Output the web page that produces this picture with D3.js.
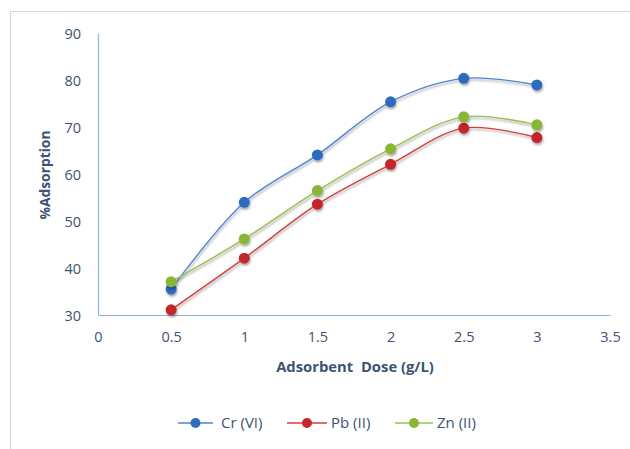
<!DOCTYPE html>
<html>
<head>
<meta charset="utf-8">
<script src="https://cdn.jsdelivr.net/npm/d3@7"></script>
<style>
  html, body { margin: 0; padding: 0; background: #fff; }
  svg { display: block; }
</style>
</head>
<body>
<svg id="chart" width="630" height="449"></svg>
<script>
// Adsorbent dose (g/L) and % adsorption per metal ion
const doses = [0.5, 1, 1.5, 2, 2.5, 3];
const crVI = [35.5, 54.0, 64.1, 75.4, 80.4, 79.0];
const pbII = [31.1, 42.1, 53.6, 62.1, 69.8, 67.8];
const znII = [37.1, 46.2, 56.5, 65.4, 72.2, 70.5];
const seriesNames = ["Cr (VI)", "Pb (II)", "Zn (II)"];
const xTicks = [0, 0.5, 1, 1.5, 2, 2.5, 3, 3.5];
const yTicks = [30, 40, 50, 60, 70, 80, 90];

const lineColors = ["#4f86cf", "#d0413f", "#98c04a"];
const markerColors = ["#2f6bbd", "#c3282a", "#8ab636"];
const seriesValues = [crVI, pbII, znII];

const svg = d3.select("#chart");
const textColor = "#3d5373";
const axisColor = "#8fb3e2";
const font = "'Open Sans', 'Liberation Sans', sans-serif";

// outer chart frame
svg.append("rect")
  .attr("x", 10.5).attr("y", 11.5)
  .attr("width", 640).attr("height", 460)
  .attr("fill", "none").attr("stroke", "#c9d9ef").attr("stroke-width", 1);

const x = d3.scaleLinear().domain([0, 3.5]).range([98, 610]);
const y = d3.scaleLinear().domain([30, 90]).range([315, 33.3]);

// soft drop shadow under lines and markers
const defs = svg.append("defs");
const f = defs.append("filter").attr("id", "shadow")
  .attr("x", "-20%").attr("y", "-20%").attr("width", "140%").attr("height", "140%");
f.append("feDropShadow").attr("dx", 0.8).attr("dy", 2).attr("stdDeviation", 1.3)
  .attr("flood-color", "#000").attr("flood-opacity", 0.35);

// axes (no tick marks, just lines and labels)
const xAxis = d3.axisBottom(x).tickValues(xTicks).tickSize(0).tickPadding(17)
  .tickFormat(d => String(d));
const yAxis = d3.axisLeft(y).tickValues(yTicks).tickSize(0).tickPadding(17)
  .tickFormat(d => String(d));

const gx = svg.append("g").attr("transform", `translate(0,${y(30)})`).call(xAxis);
const gy = svg.append("g").attr("transform", `translate(${x(0)},0)`).call(yAxis);
[gx, gy].forEach(g => {
  g.select(".domain").attr("stroke", axisColor).attr("stroke-width", 1.2);
  g.selectAll("text").attr("fill", textColor).attr("font-family", font).attr("font-size", 14.5);
});
gy.selectAll("text").attr("dy", "0.35em");

// axis titles
svg.append("text")
  .attr("x", 355).attr("y", 372)
  .attr("text-anchor", "middle")
  .attr("font-family", font).attr("font-size", 14.8).attr("font-weight", "bold")
  .attr("fill", textColor)
  .attr("xml:space", "preserve")
  .style("white-space", "pre")
  .text("Adsorbent  Dose (g/L)");

svg.append("text")
  .attr("transform", "translate(50,175) rotate(-90)")
  .attr("text-anchor", "middle")
  .attr("font-family", font).attr("font-size", 13.8).attr("font-weight", "bold")
  .attr("fill", textColor)
  .text("%Adsorption");

// smoothed series lines with markers
const line = d3.line()
  .x((d, i) => x(doses[i]))
  .y(d => y(d))
  .curve(d3.curveCatmullRom.alpha(0.5));

seriesValues.forEach((vals, s) => {
  const g = svg.append("g").attr("filter", "url(#shadow)");
  g.append("path")
    .datum(vals)
    .attr("d", line)
    .attr("fill", "none")
    .attr("stroke", lineColors[s])
    .attr("stroke-width", 1.4);
  g.selectAll("circle")
    .data(vals)
    .join("circle")
    .attr("cx", (d, i) => x(doses[i]))
    .attr("cy", d => y(d))
    .attr("r", 5.5)
    .attr("fill", markerColors[s]);
});

// legend
const legendItems = [
  { x: 178, w: 35, tx: 221 },
  { x: 287, w: 40, tx: 331 },
  { x: 395, w: 38, tx: 437 }
];
const ly = 423;
seriesNames.forEach((name, s) => {
  const it = legendItems[s];
  const g = svg.append("g");
  g.append("line")
    .attr("x1", it.x).attr("x2", it.x + it.w)
    .attr("y1", ly).attr("y2", ly)
    .attr("stroke", lineColors[s]).attr("stroke-width", 1.4);
  g.append("circle")
    .attr("cx", it.x + it.w / 2).attr("cy", ly).attr("r", 5)
    .attr("fill", markerColors[s]);
  g.append("text")
    .attr("x", it.tx).attr("y", ly).attr("dy", "0.35em")
    .attr("font-family", font).attr("font-size", 15)
    .attr("fill", textColor)
    .text(name);
});
</script>
</body>
</html>
